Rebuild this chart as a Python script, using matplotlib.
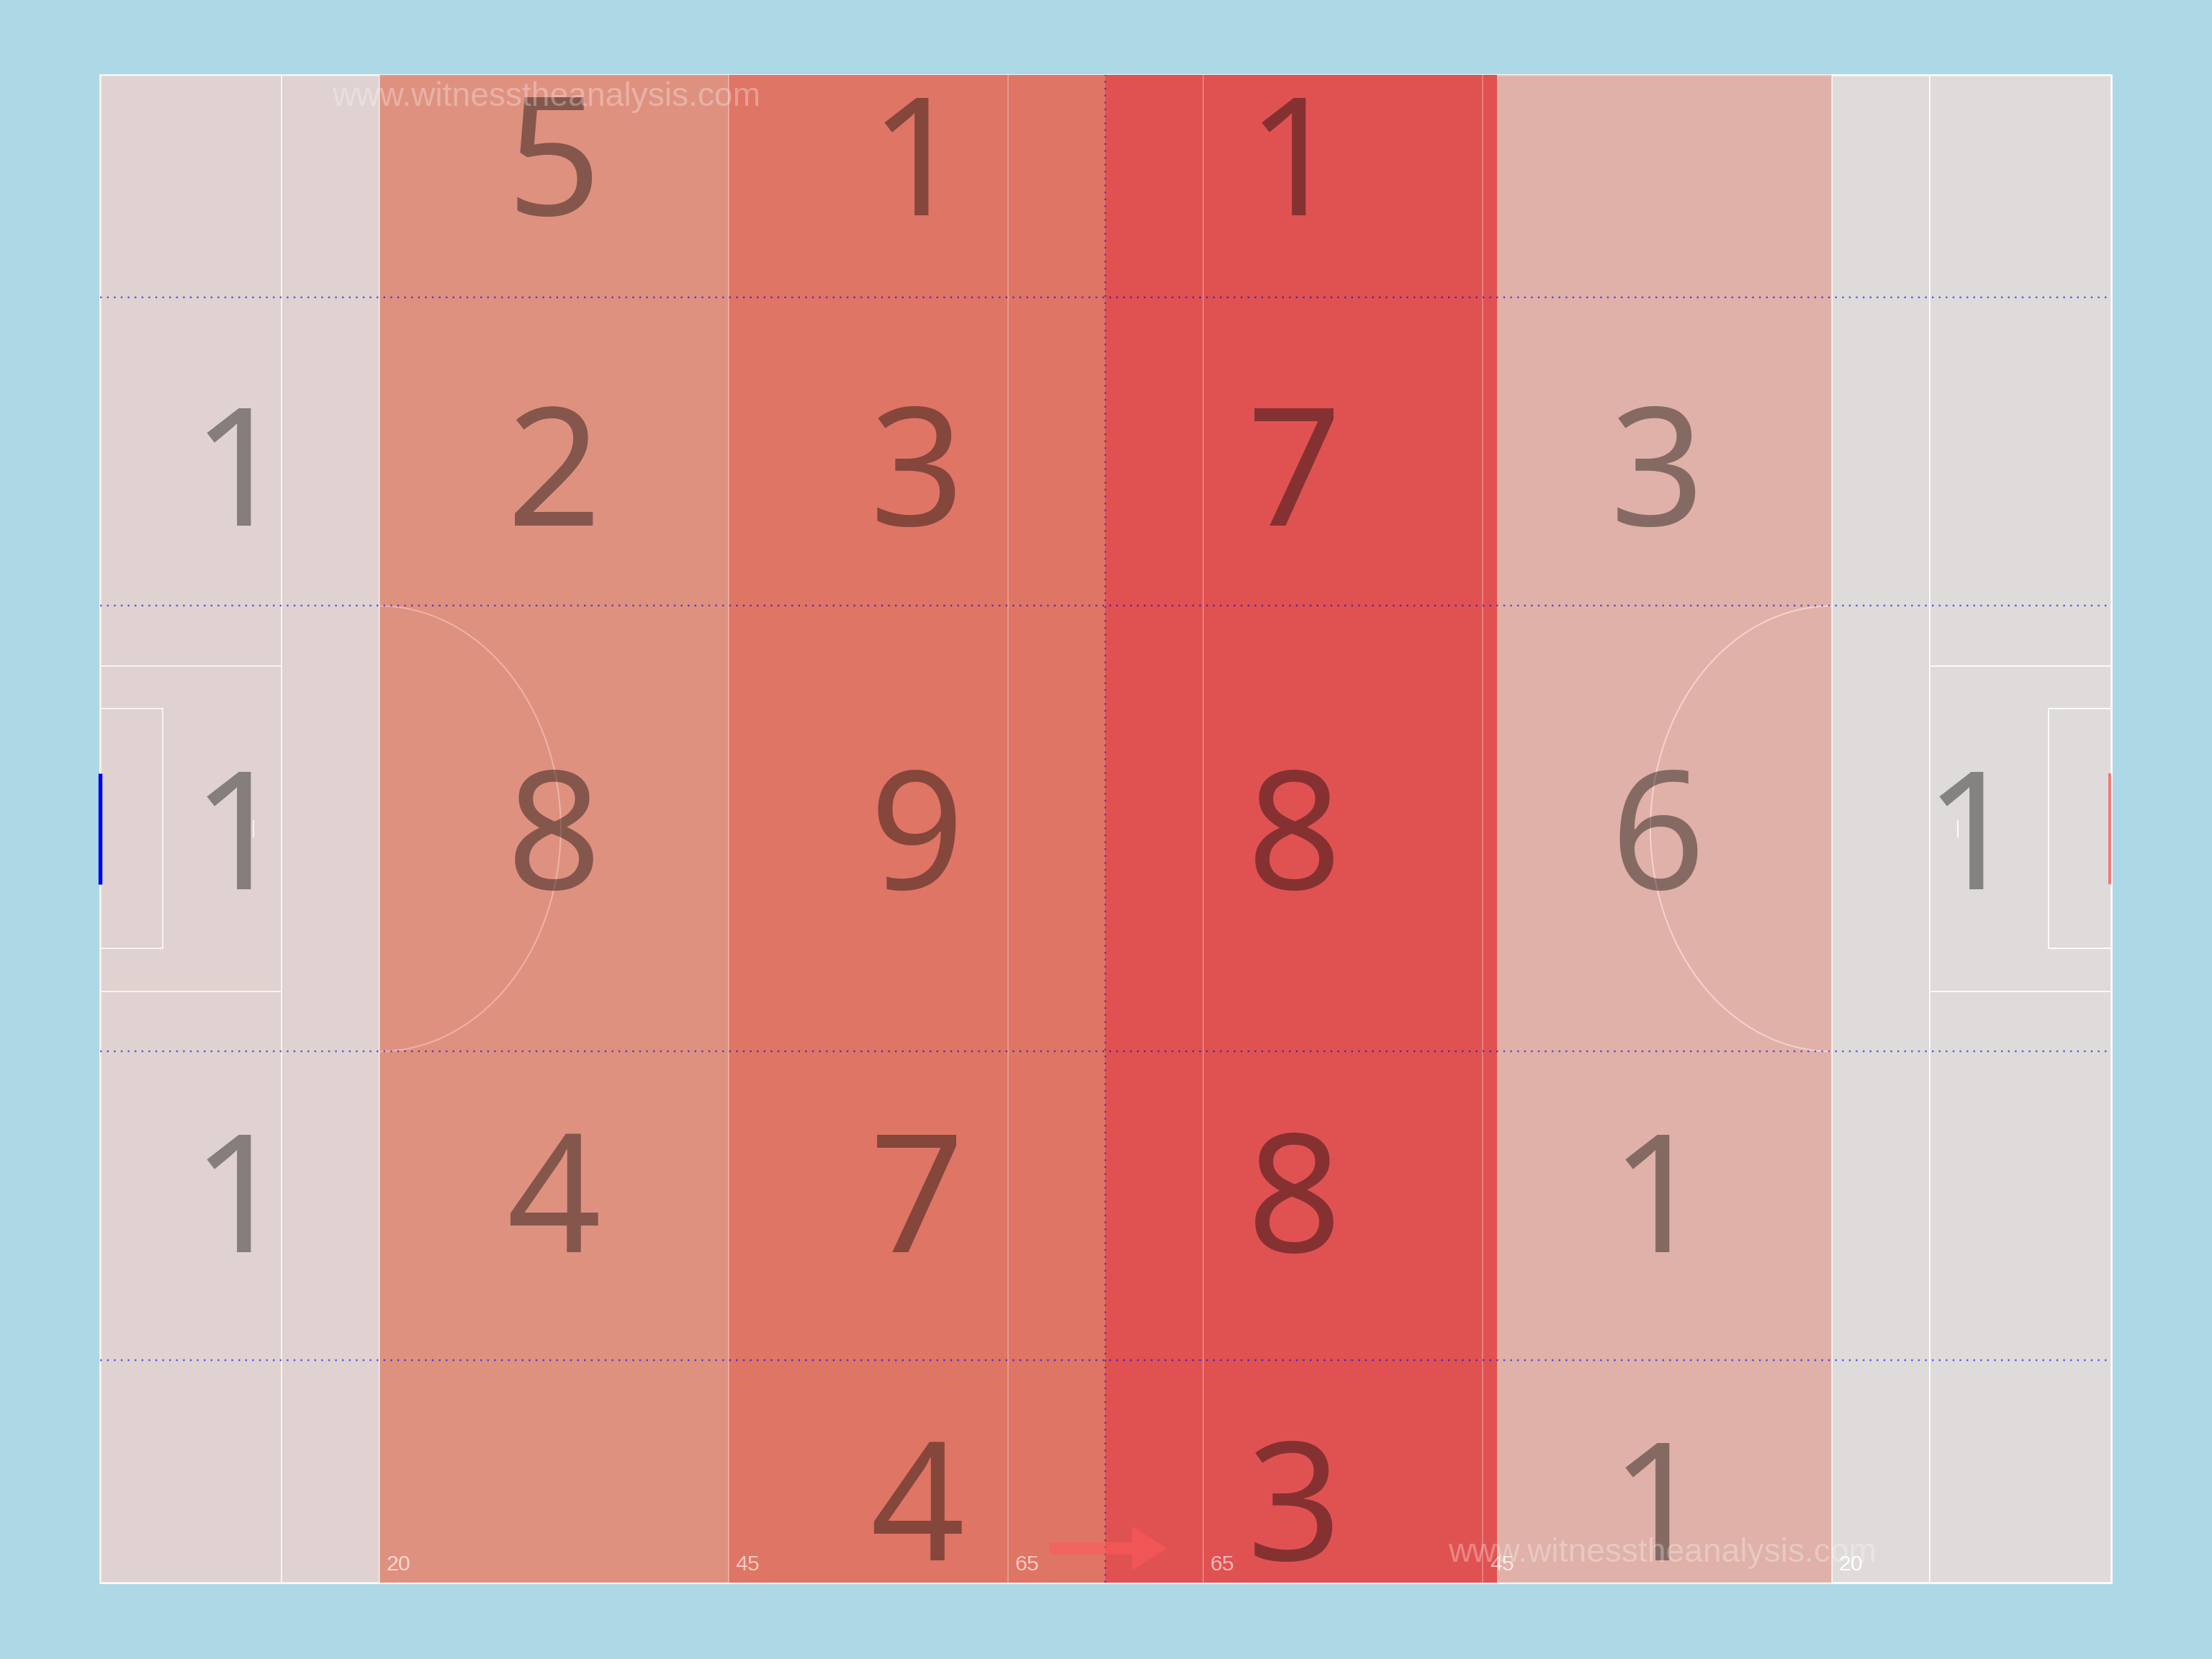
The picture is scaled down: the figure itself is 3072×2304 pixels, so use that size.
import matplotlib
matplotlib.use('Agg')
import matplotlib.pyplot as plt
from matplotlib.patches import Rectangle, Arc, FancyArrow
from matplotlib.colors import LinearSegmentedColormap, Normalize

PITCH_LEN = 144
PITCH_WID = 88

# zones along the pitch (metres from the left goal line)
zone_edges = [0, 20, 45, 72, 100, 124, 144]
zone_marks = [0, 20, 45, 72, 99, 124, 144]
row_edges = [13, 31, 57, 75]

# counts per zone, rows top to bottom, columns left to right
counts = [
    [None, 5, 1, 1, None, None],
    [1, 2, 3, 7, 3, None],
    [1, 8, 9, 8, 6, 1],
    [1, 4, 7, 8, 1, None],
    [None, None, 4, 3, 1, None],
]
row_text_y = [79.8, 61.7, 40.45, 19.3, 1.3]

line_marks = [13, 20, 45, 65, 79, 99, 124, 131]
dist_labels = [(20, '20'), (45, '45'), (65, '65'), (79, '65'), (99, '45'), (124, '20')]

FONT = ['Liberation Sans', 'DejaVu Sans']
NUM_FONT = ['Noto Sans', 'DejaVu Sans']


def draw_markings(ax, alpha, label_alpha, z):
    kw = dict(color='white', alpha=alpha, lw=0.75, zorder=z, solid_capstyle='butt')
    for x in line_marks:
        ax.plot([x, x], [0, PITCH_WID], **kw)
    # large and small rectangles
    ax.plot([0, 13, 13, 0], [34.5, 34.5, 53.5, 53.5], **kw)
    ax.plot([144, 131, 131, 144], [34.5, 34.5, 53.5, 53.5], **kw)
    ax.plot([0, 4.5, 4.5, 0], [37, 37, 51, 51], **kw)
    ax.plot([144, 139.5, 139.5, 144], [37, 37, 51, 51], **kw)
    # arcs
    ax.add_patch(Arc((20, 44), 26, 26, theta1=-90, theta2=90, edgecolor='white',
                     alpha=alpha, lw=0.75, zorder=z))
    ax.add_patch(Arc((124, 44), 26, 26, theta1=90, theta2=270, edgecolor='white',
                     alpha=alpha, lw=0.75, zorder=z))
    # penalty spots
    ax.plot([11, 11], [43.5, 44.5], **kw)
    ax.plot([133, 133], [43.5, 44.5], **kw)
    for x, s in dist_labels:
        ax.text(x + 0.5, 0.7, s, color='white', alpha=label_alpha, fontsize=11.4,
                ha='left', va='baseline', family=FONT, zorder=z)


fig = plt.figure(figsize=(16, 12), dpi=192, facecolor='lightblue')
ax = fig.add_axes([0.0451, 0.046, 0.9094, 0.909])
ax.set_xlim(0, PITCH_LEN)
ax.set_ylim(0, PITCH_WID)
ax.axis('off')

ax.add_patch(Rectangle((0, 0), PITCH_LEN, PITCH_WID, facecolor='#dfdfdf', lw=0, zorder=0))
ax.add_patch(Rectangle((0, 0), PITCH_LEN, PITCH_WID, fill=False, edgecolor='white',
                       lw=1.0, zorder=1, clip_on=False))
draw_markings(ax, 1.0, 1.0, 1)

# zone shading by column total
totals = [sum(row[c] for row in counts if row[c] is not None) for c in range(len(zone_edges) - 1)]
norm = Normalize(vmin=0, vmax=max(totals))
cmap = LinearSegmentedColormap.from_list(
    'zone', [(0, '#e07058'), (0.7, '#e07058'), (0.89, '#df6856'), (1, '#e05252')])
for c, t in enumerate(totals):
    f = norm(t)
    ax.add_patch(Rectangle((zone_edges[c], 0), zone_edges[c + 1] - zone_edges[c], PITCH_WID,
                           facecolor=cmap(f), alpha=f, lw=0, zorder=2))

draw_markings(ax, 0.25, 0.6, 3)

# zone dividers
for y in row_edges:
    ax.plot([0, PITCH_LEN], [y, y], color='blue', alpha=0.6, lw=0.9,
            linestyle=(0, (1, 3)), zorder=4)
ax.plot([72, 72], [0, PITCH_WID], color='#6a0a9a', alpha=0.7, lw=0.9,
        linestyle=(0, (1, 3)), zorder=4)

# goals
ax.plot([0, 0], [40.75, 47.25], color='blue', lw=2, zorder=7, clip_on=False,
        solid_capstyle='butt')
ax.plot([144, 144], [40.75, 47.25], color='red', alpha=0.45, lw=3, zorder=7,
        solid_capstyle='butt')

# direction of play
ax.add_patch(FancyArrow(68, 2.0, 8.4, 0, width=0.71, head_width=2.56, head_length=2.5,
                        length_includes_head=True, color='#ff5a5a', alpha=0.55, lw=0, zorder=5))

# counts
for r, row in enumerate(counts):
    for c, v in enumerate(row):
        if v is None:
            continue
        xc = (zone_marks[c] + zone_marks[c + 1]) / 2
        ax.text(xc, row_text_y[r], str(v), ha='center', va='baseline', fontsize=86,
                color='black', alpha=0.4, family=NUM_FONT, zorder=6)

ax.text(16.6, 86.2, 'www.witnesstheanalysis.com', color='white', alpha=0.3, fontsize=17.3,
        ha='left', va='baseline', family=FONT, zorder=6)
ax.text(96.5, 1.2, 'www.witnesstheanalysis.com', color='white', alpha=0.3, fontsize=17.3,
        ha='left', va='baseline', family=FONT, zorder=6)

fig.savefig('out.png', dpi=192, facecolor=fig.get_facecolor())
